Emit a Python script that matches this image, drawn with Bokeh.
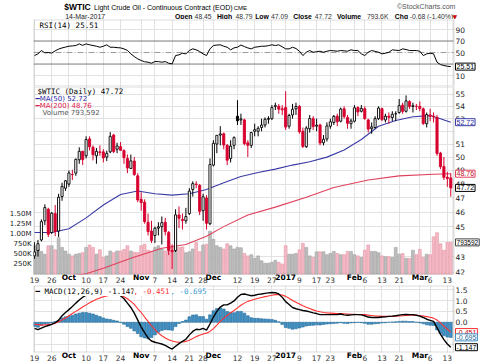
from bokeh.plotting import figure
from bokeh.layouts import column
from bokeh.models import (Range1d, LinearAxis, LinearScale, FixedTicker, Label, Span,
                          BoxAnnotation, NumeralTickFormatter, PrintfTickFormatter)
from bokeh.core.properties import value
from bokeh.embed import file_html
from bokeh.resources import INLINE

# ---------------- data (trading-day index 0 = 19 Sep 2016 ... 121 = 14 Mar 2017) -------------
opens = [43.05, 43.40, 44.10, 45.40, 46.20, 44.60, 45.90, 44.70, 47.10, 47.70,
         48.00, 48.70, 48.80, 49.80, 50.45, 50.10, 51.40, 50.75, 50.10, 50.40,
         50.40, 50.00, 50.40, 51.70, 50.60, 50.80, 50.50, 49.90, 49.15, 49.70,
         48.60, 46.90, 46.70, 45.30, 44.70, 44.40, 44.90, 45.00, 45.30, 44.60,
         43.40, 43.40, 45.80, 45.50, 45.40, 45.90, 47.60, 48.00, 47.90, 46.10,
         47.00, 45.20, 49.40, 51.00, 51.70, 51.80, 50.90, 49.90, 50.90, 53.20,
         52.90, 52.90, 51.10, 50.90, 52.00, 52.00, 52.30, 52.50, 52.95, 53.00,
         54.00, 54.00, 53.80, 53.90, 52.40, 53.30, 53.80, 54.00, 52.00, 50.80,
         52.20, 53.00, 52.40, 52.50, 51.10, 51.40, 52.40, 52.70, 53.20, 52.80,
         53.80, 53.10, 52.60, 52.80, 53.90, 53.60, 53.80, 52.90, 52.20, 52.30,
         53.00, 53.80, 52.90, 53.20, 53.10, 53.40, 53.50, 54.10, 53.60, 54.40,
         54.00, 54.00, 54.00, 53.80, 52.60, 53.30, 53.20, 53.10, 50.30, 49.30,
         48.50, 48.45]
highs = [43.95, 44.10, 45.50, 46.55, 46.30, 46.00, 46.50, 47.30, 48.10, 48.30,
         49.00, 49.05, 49.90, 50.75, 50.45, 51.60, 51.60, 50.90, 50.70, 50.90,
         50.60, 50.50, 51.93, 51.80, 51.10, 51.15, 50.60, 50.20, 50.20, 50.00,
         48.80, 47.40, 46.90, 45.90, 45.40, 45.00, 45.30, 45.70, 45.60, 44.70,
         43.80, 46.20, 46.40, 45.90, 46.30, 47.70, 48.20, 48.20, 48.00, 47.30,
         47.20, 49.90, 51.30, 51.70, 52.40, 51.90, 51.00, 51.30, 51.60, 54.51,
         53.40, 53.00, 51.30, 51.95, 52.60, 52.40, 53.00, 53.10, 53.20, 54.10,
         54.30, 54.20, 54.10, 55.24, 53.40, 54.20, 54.30, 54.10, 52.30, 52.40,
         53.30, 53.20, 53.00, 52.60, 51.70, 52.70, 53.00, 53.30, 53.40, 53.90,
         54.00, 53.30, 53.00, 54.10, 54.00, 54.10, 54.00, 53.00, 52.70, 53.20,
         54.00, 53.90, 53.40, 53.50, 53.60, 53.60, 54.60, 54.30, 54.90, 54.50,
         54.30, 54.20, 54.40, 53.90, 53.50, 53.80, 53.50, 53.30, 50.40, 50.00,
         48.90, 48.79]
lows = [42.85, 43.00, 44.00, 45.10, 44.30, 44.50, 44.35, 44.30, 46.80, 47.50,
        47.80, 48.30, 48.60, 49.50, 49.40, 49.90, 50.50, 49.75, 49.50, 50.10,
        49.60, 49.70, 50.30, 50.30, 50.30, 50.50, 49.50, 48.80, 49.10, 48.60,
        46.70, 46.10, 45.20, 44.40, 43.90, 43.90, 44.40, 43.80, 44.40, 43.10,
        42.20, 43.30, 44.90, 44.80, 45.20, 45.80, 47.10, 47.70, 45.80, 45.40,
        44.80, 45.10, 49.30, 50.30, 50.90, 50.60, 49.40, 49.60, 50.60, 52.50,
        52.50, 50.90, 50.00, 50.70, 51.60, 51.60, 52.00, 52.30, 52.60, 52.90,
        53.70, 53.40, 53.30, 52.10, 52.20, 53.00, 53.30, 51.80, 50.70, 50.70,
        51.90, 52.10, 52.00, 50.90, 50.90, 51.20, 52.20, 52.50, 52.40, 52.70,
        53.00, 52.20, 52.20, 52.70, 53.20, 53.50, 52.90, 51.90, 51.80, 52.20,
        52.90, 52.80, 52.70, 52.60, 52.80, 52.80, 53.40, 53.40, 53.50, 53.80,
        53.50, 53.70, 53.60, 52.50, 52.30, 52.80, 52.70, 50.10, 49.10, 48.30,
        47.80, 47.09]
closes = [43.30, 43.85, 45.34, 46.32, 44.48, 45.93, 44.67, 47.05, 47.83, 48.24,
          48.81, 48.69, 49.83, 50.44, 49.81, 51.35, 50.79, 50.18, 50.44, 50.35,
          49.94, 50.29, 51.60, 50.43, 50.85, 50.52, 49.96, 49.18, 49.72, 48.70,
          46.86, 46.67, 45.34, 44.66, 44.07, 44.89, 44.98, 45.27, 44.66, 43.41,
          43.32, 45.81, 45.57, 45.42, 45.69, 47.49, 48.03, 47.96, 46.06, 47.08,
          45.23, 49.44, 51.06, 51.68, 51.79, 50.93, 49.77, 50.84, 51.50, 52.83,
          52.98, 51.04, 50.90, 51.90, 52.12, 52.23, 52.49, 52.95, 53.02, 53.90,
          54.06, 53.77, 53.72, 52.33, 53.26, 53.76, 53.99, 51.96, 50.82, 52.25,
          53.01, 52.37, 52.48, 51.08, 51.37, 52.42, 52.75, 53.18, 52.75, 53.78,
          53.17, 52.63, 52.81, 53.88, 53.54, 53.83, 53.01, 52.17, 52.34, 53.00,
          53.86, 52.93, 53.20, 53.11, 53.36, 53.40, 54.06, 53.59, 54.45, 53.99,
          54.05, 54.01, 53.83, 52.61, 53.33, 53.20, 53.14, 50.28, 49.28, 48.49,
          48.40, 47.72]
# volume in thousands
volumes = [710, 620, 570, 500, 710, 710, 610, 910, 670, 580,
           500, 460, 500, 520, 540, 670, 730, 670, 500, 610,
           420, 460, 580, 540, 580, 580, 620, 710, 580, 550,
           540, 710, 750, 600, 580, 670, 710, 630, 580, 790,
           710, 580, 670, 680, 540, 560, 630, 790, 560, 730,
           750, 1070, 870, 710, 670, 630, 760, 710, 630, 670,
           660, 520, 460, 490, 400, 460, 340, 280, 280, 300,
           350, 300, 260, 710, 500, 500, 520, 610, 770, 670,
           460, 420, 560, 560, 560, 490, 520, 570, 520, 490,
           490, 570, 570, 490, 460, 420, 600, 730, 570, 570,
           540, 460, 440, 440, 420, 670, 500, 520, 400, 400,
           600, 490, 620, 420, 500, 490, 930, 1030, 760, 600,
           790, 793.592]
ma50_idx = [0, 5, 10, 15, 20, 25, 30, 35, 40, 45, 50, 55, 60, 65, 70, 75, 80,
            85, 90, 95, 100, 105, 110, 115, 118, 121]
ma50_val = [44.6, 44.6, 44.85, 45.6, 46.5, 47.25, 47.5, 47.3, 47.2, 47.3, 47.6,
            48.1, 48.55, 48.85, 49.1, 49.4, 49.65, 50.0, 50.55, 51.35, 52.4,
            52.85, 53.15, 53.25, 53.0, 52.72]
ma200_idx = [0, 10, 15, 20, 28, 37, 44, 50, 55, 62, 70, 79, 87, 97, 106, 116, 121]
ma200_val = [41.45, 41.75, 41.9, 42.25, 42.9, 43.55, 43.8, 44.35, 45.0, 45.8,
             46.35, 47.05, 47.75, 48.3, 48.6, 48.72, 48.76]
rsi = [44.8, 47.7, 53.5, 49.5, 50.0, 49.0, 53.0, 56.0, 58.0, 59.5,
       61.0, 61.5, 62.2, 65.0, 62.5, 65.0, 63.4, 62.2, 61.0, 59.2,
       61.0, 63.4, 59.2, 59.2, 58.5, 58.1, 56.4, 53.5, 47.7, 43.0,
       39.0, 36.1, 34.0, 33.2, 31.4, 34.3, 34.3, 33.2, 34.3, 31.4,
       30.3, 44.8, 46.0, 48.8, 47.7, 53.5, 56.4, 54.7, 51.7, 47.7,
       44.8, 56.4, 62.2, 63.0, 63.4, 61.0, 59.2, 54.7, 58.1, 59.2,
       63.0, 60.4, 58.0, 56.4, 59.2, 60.0, 61.0, 61.0, 62.0, 63.4,
       62.2, 63.4, 60.0, 56.4, 56.4, 59.2, 57.0, 52.3, 44.8, 50.5,
       53.5, 50.5, 51.5, 52.3, 50.5, 52.3, 53.5, 53.0, 52.3, 53.5,
       53.0, 52.3, 54.7, 53.5, 53.5, 47.7, 44.8, 50.5, 53.5, 52.0,
       50.5, 47.7, 48.8, 50.5, 54.7, 54.0, 53.5, 56.4, 55.2, 53.5,
       53.5, 53.5, 52.3, 44.8, 47.7, 48.8, 47.7, 33.2, 29.1, 27.4,
       26.2, 25.51]
macd = [-0.28, -0.34, -0.27, -0.20, -0.15, -0.10, -0.02, 0.10, 0.30, 0.45,
        0.58, 0.72, 0.88, 1.02, 1.15, 1.25, 1.32, 1.36, 1.38, 1.38,
        1.37, 1.36, 1.38, 1.36, 1.32, 1.22, 1.08, 0.88, 0.68, 0.42,
        0.10, -0.22, -0.48, -0.72, -0.86, -0.92, -0.96, -1.00, -1.06, -1.15,
        -1.23, -1.10, -0.98, -0.88, -0.78, -0.58, -0.42, -0.32, -0.34, -0.28,
        -0.36, -0.08, 0.24, 0.50, 0.70, 0.80, 0.80, 0.88, 0.98, 1.15,
        1.28, 1.30, 1.26, 1.22, 1.24, 1.28, 1.30, 1.33, 1.35, 1.37,
        1.36, 1.30, 1.15, 0.95, 0.82, 0.68, 0.62, 0.58, 0.54, 0.52,
        0.48, 0.43, 0.40, 0.35, 0.35, 0.35, 0.35, 0.35, 0.36, 0.38,
        0.34, 0.32, 0.34, 0.35, 0.35, 0.34, 0.30, 0.24, 0.22, 0.22,
        0.22, 0.24, 0.25, 0.27, 0.28, 0.30, 0.33, 0.35, 0.36, 0.35,
        0.35, 0.32, 0.28, 0.22, 0.14, 0.09, 0.04, -0.25, -0.55, -0.80,
        -1.00, -1.147]
signal = [-0.09, -0.11, -0.13, -0.12, -0.10, -0.08, -0.05, 0.02, 0.10, 0.20,
          0.30, 0.40, 0.50, 0.60, 0.70, 0.80, 0.90, 0.98, 1.06, 1.12,
          1.17, 1.21, 1.25, 1.27, 1.26, 1.23, 1.17, 1.08, 0.96, 0.82,
          0.62, 0.45, 0.24, 0.04, -0.16, -0.34, -0.50, -0.62, -0.72, -0.80,
          -0.86, -0.90, -0.92, -0.91, -0.88, -0.83, -0.75, -0.66, -0.60, -0.54,
          -0.50, -0.42, -0.29, -0.13, 0.04, 0.19, 0.31, 0.43, 0.54, 0.66,
          0.78, 0.88, 0.96, 1.01, 1.06, 1.10, 1.14, 1.18, 1.21, 1.24,
          1.27, 1.28, 1.25, 1.19, 1.10, 1.00, 0.92, 0.84, 0.76, 0.69,
          0.63, 0.57, 0.52, 0.48, 0.45, 0.43, 0.42, 0.41, 0.40, 0.40,
          0.39, 0.38, 0.37, 0.37, 0.36, 0.36, 0.35, 0.33, 0.31, 0.29,
          0.28, 0.27, 0.27, 0.27, 0.27, 0.28, 0.29, 0.30, 0.31, 0.32,
          0.32, 0.32, 0.31, 0.29, 0.26, 0.23, 0.19, 0.10, -0.03, -0.18,
          -0.32, -0.451]
hist = [-0.19, -0.23, -0.14, -0.08, -0.05, -0.02, 0.03, 0.08, 0.20, 0.25,
        0.28, 0.32, 0.38, 0.42, 0.45, 0.45, 0.42, 0.38, 0.32, 0.26,
        0.20, 0.15, 0.13, 0.09, 0.06, -0.01, -0.09, -0.20, -0.28, -0.40,
        -0.52, -0.67, -0.72, -0.76, -0.70, -0.58, -0.46, -0.38, -0.34, -0.35,
        -0.37, -0.20, -0.06, 0.03, 0.10, 0.25, 0.33, 0.34, 0.26, 0.26,
        0.14, 0.34, 0.53, 0.63, 0.66, 0.61, 0.49, 0.45, 0.44, 0.49,
        0.50, 0.42, 0.30, 0.21, 0.18, 0.18, 0.16, 0.15, 0.14, 0.13,
        0.09, 0.02, -0.10, -0.24, -0.28, -0.32, -0.30, -0.26, -0.22, -0.17,
        -0.15, -0.14, -0.12, -0.13, -0.10, -0.08, -0.07, -0.06, -0.04, -0.02,
        -0.05, -0.06, -0.03, -0.02, -0.01, -0.02, -0.05, -0.09, -0.09, -0.07,
        -0.06, -0.03, -0.02, 0.00, 0.01, 0.02, 0.04, 0.05, 0.05, 0.03,
        0.03, 0.00, -0.03, -0.07, -0.12, -0.14, -0.15, -0.35, -0.52, -0.62,
        -0.68, -0.695]
day_idx = [0, 5, 15, 20, 25, 35, 40, 45, 49, 59, 64, 69, 77, 82, 86, 96, 101,
           106, 115, 120]
day_lbl = ["19", "26", "10", "17", "24", "7", "14", "21", "28", "12", "19", "27",
           "9", "17", "23", "6", "13", "21", "6", "13"]
month_idx = [10, 31, 52, 73, 93, 112]
month_lbl = ["Oct", "Nov", "Dec", "2017", "Feb", "Mar"]
price_ticks = [42, 43, 45, 46, 47, 48, 49, 50, 51, 53, 54, 55]
price_grid = [42, 43, 44, 45, 46, 47, 48, 49, 50, 51, 52, 53, 54, 55]
vol_ticks = [250, 500, 750, 1000, 1250, 1500]
vol_lbls = ["250K", "500K", "750K", "1.00M", "1.25M", "1.50M"]
rsi_ticks = [10, 50, 70, 90]
rsi_bands = [30, 70]
rsi_mid = 50
macd_ticks = [1.5, 1.0, 0.5, 0.0]
macd_grid = [-1.0, -0.5, 0.0, 0.5, 1.0, 1.5]

symbol = "$WTIC"
name = "Light Crude Oil - Continuous Contract (EOD)"
exch = "CME"
asof = "14-Mar-2017"
quote_keys = ["Open", "High", "Low", "Close", "Volume", "Chg"]
quote_vals = ["48.45", "48.79", "47.09", "47.72", "793.6K", "-0.68 (-1.40%)"]

# ---------------- styling helpers ----------------
W = 480
BL = 33
GRID = "#e2e2e2"
OUTLINE = "#8a8a8a"
RED = "#d8002e"
AXF = "DejaVu Sans"
n = len(closes)
xs = list(range(n))
XSTART, XEND = -0.3, 121.8           # visible data area (frame right edge at x=453)
xr = Range1d(XSTART, 129.64)          # the extra room holds the right-hand scale
all_xticks = sorted(day_idx + month_idx)


def style_axis(ax, size="7.5px"):
    ax.major_tick_line_color = None
    ax.minor_tick_line_color = None
    ax.major_tick_out = 0
    ax.major_tick_in = 0
    ax.minor_tick_out = 0
    ax.minor_tick_in = 0
    ax.axis_line_color = None
    ax.major_label_text_font = AXF
    ax.major_label_text_font_size = size
    ax.major_label_text_color = "#222222"
    ax.major_label_standoff = 2


def panel(height, yr, **kw):
    p = figure(width=W, height=height, x_range=xr, y_range=yr,
               toolbar_location=None, output_backend="svg",
               min_border_left=BL, min_border_right=0, min_border_top=0,
               min_border_bottom=0, y_axis_location="right", **kw)
    p.outline_line_color = None
    p.background_fill_color = "white"
    p.border_fill_color = "white"
    p.grid.grid_line_color = GRID
    p.xgrid.ticker = FixedTicker(ticks=all_xticks)
    if p.below:
        dax = p.below[0]
        dax.ticker = FixedTicker(ticks=day_idx)
        dax.major_label_overrides = dict(zip(day_idx, day_lbl))
        style_axis(dax)
        dax.major_label_text_color = "#333333"
        # month names: a second axis whose labels are pulled up into the same row
        max_ = LinearAxis(ticker=FixedTicker(ticks=month_idx),
                          major_label_overrides=dict(zip(month_idx, month_lbl)))
        style_axis(max_)
        max_.major_label_standoff = -13
        max_.major_label_text_font_style = "bold"
        max_.major_label_text_color = "black"
        p.add_layout(max_, "below")
    ax = p.right[0]
    ax.fixed_location = XEND
    style_axis(ax)
    return p


def finish(p, ybot, ytop):
    # white mask over the scale area, then the frame outline
    p.add_layout(BoxAnnotation(left=XEND, fill_color="white", fill_alpha=1.0,
                               line_color=None, level="underlay"))
    p.add_layout(BoxAnnotation(left=XSTART, right=XEND, bottom=ybot, top=ytop,
                               fill_alpha=0.0, line_color=OUTLINE, line_width=2))


def legend(p, ytop, text, dx, dy, color, font="DejaVu Sans Mono", size="7.5px",
           bg=None):
    p.add_layout(Label(x=XSTART, y=ytop, x_offset=dx, y_offset=-dy, text=text,
                       text_color=color, text_font=font, text_font_size=size,
                       text_baseline="middle", text_align="left",
                       background_fill_color=bg,
                       background_fill_alpha=1.0 if bg else 0.0))


def vbox(p, y, text, color, tcolor, yname="default", size="7px"):
    p.add_layout(Label(x=XEND, y=y, x_offset=2, text=text, text_color=tcolor,
                       text_font="Liberation Sans", text_font_size=size,
                       text_baseline="middle", text_align="left",
                       background_fill_color="white", border_line_color=color,
                       border_line_width=1, padding=1, y_range_name=yname))


# ---------------- header ----------------
hdr = figure(width=W, height=19, x_range=Range1d(0, 480), y_range=Range1d(19, 0),
             toolbar_location=None, output_backend="svg", min_border=0)
hdr.axis.visible = False
hdr.grid.visible = False
hdr.outline_line_color = None
hdr.background_fill_color = "white"
hdr.border_fill_color = "white"
LS = value("Liberation Sans")
hdr.text(x=[33], y=[6], text=[symbol], text_font=LS, text_font_size="8.5px",
         text_font_style="bold", text_baseline="middle", text_color="black")
hdr.text(x=[65], y=[6.5], text=[name], text_font=LS, text_font_size="7px",
         text_baseline="middle", text_color="black")
hdr.text(x=[215], y=[7], text=[exch], text_font=LS, text_font_size="6px",
         text_baseline="middle", text_color="black")
hdr.text(x=[453], y=[6], text=["\u00a9StockCharts.com"], text_font=LS,
         text_font_size="7px", text_baseline="middle", text_align="right",
         text_color="#555555")
hdr.text(x=[34], y=[15.5], text=[asof], text_font=LS, text_font_size="7px",
         text_baseline="middle", text_color="#222222")
hdr.text(x=[152, 197, 238, 279, 326, 388], y=[15.5] * 6, text=quote_keys,
         text_font=LS, text_font_size="6.8px", text_font_style="bold",
         text_baseline="middle", text_color="black")
hdr.text(x=[173, 217, 255, 302, 358, 404], y=[15.5] * 6, text=quote_vals,
         text_font=LS, text_font_size="6.8px", text_baseline="middle",
         text_color="#333333")
hdr.text(x=[450], y=[15.5], text=["\u25bc"], text_font=value("DejaVu Sans"),
         text_font_size="6px", text_baseline="middle", text_color="#cc0000")

# ---------------- RSI ----------------
RSI_LO, RSI_HI = -9, 107.4
pr = panel(67, Range1d(RSI_LO, RSI_HI), x_axis_location=None)
pr.yaxis.ticker = FixedTicker(ticks=rsi_ticks)
pr.ygrid.ticker = FixedTicker(ticks=[10, 90])
for lvl in rsi_bands:
    pr.add_layout(Span(location=lvl, dimension="width", line_color="#7a7a7a",
                       line_width=1, level="underlay"))
pr.add_layout(Span(location=rsi_mid, dimension="width", line_color="#9a9a9a",
                   line_width=1, line_dash="6 2 1 2", level="underlay"))
finish(pr, RSI_LO, RSI_HI)
pr.line(xs, rsi, line_color="black", line_width=1)
legend(pr, RSI_HI, "RSI(14) 25.51", 6, 6, "black")
vbox(pr, rsi[-1], "25.51", "black", "black")

# ---------------- price + volume ----------------
P_LO, P_HI = 41.85, 55.65
pm = panel(199, Range1d(P_LO, P_HI), y_axis_type="log")
pm.right[0].ticker = FixedTicker(ticks=price_ticks)
pm.right[0].formatter = PrintfTickFormatter(format="%d")
pm.ygrid.ticker = FixedTicker(ticks=price_grid)
pm.extra_y_ranges = {"vol": Range1d(0, 4645)}
pm.extra_y_scales = {"vol": LinearScale()}
vax = LinearAxis(y_range_name="vol", ticker=FixedTicker(ticks=vol_ticks),
                 major_label_overrides=dict(zip(vol_ticks, vol_lbls)))
style_axis(vax, "7px")
pm.add_layout(vax, "left")
finish(pm, P_LO, P_HI)

down = [i > 0 and closes[i] < closes[i - 1] for i in xs]
vfill = ["#f3b9c4" if d else "#bdbdbd" for d in down]
vline = ["#e596a6" if d else "#a0a0a0" for d in down]
pm.vbar(x=xs, width=0.82, top=volumes, bottom=0, y_range_name="vol",
        fill_color=vfill, line_color=vline, line_width=0.6)
pm.line(ma200_idx, ma200_val, line_color="#e0405c", line_width=1.1)
pm.line(ma50_idx, ma50_val, line_color="#3a3aa8", line_width=1.1)

ccol = [RED if d else "black" for d in down]
btop = [max(o, c) for o, c in zip(opens, closes)]
bbot = [min(o, c) for o, c in zip(opens, closes)]
bfill = ["white" if c > o else col for o, c, col in zip(opens, closes, ccol)]
pm.segment(x0=xs, y0=lows, x1=xs, y1=highs, line_color=ccol, line_width=1)
pm.vbar(x=xs, width=0.62, top=btop, bottom=bbot, fill_color=bfill,
        line_color=ccol, line_width=0.9)

legend(pm, P_HI, "$WTIC (Daily) 47.72", 4, 5, "black")
legend(pm, P_HI, "\u2501MA(50) 52.72", 2, 12.5, "#2b2ba0", font="DejaVu Sans", size="7px")
legend(pm, P_HI, "\u2501MA(200) 48.76", 2, 19.5, "#e0204a", font="DejaVu Sans", size="7px")
legend(pm, P_HI, "Volume 793,592", 9, 26.5, "#555555", font="DejaVu Sans", size="7px")
vbox(pm, ma50_val[-1], "52.72", "#3a3aa8", "#2b2ba0")
vbox(pm, ma200_val[-1], "48.76", "#e0405c", "#c0102a")
vbox(pm, closes[-1], "47.72", "black", "black")
vbox(pm, volumes[-1], "793592", "#444444", "black", yname="vol", size="6.5px")

# ---------------- MACD ----------------
M_LO, M_HI = -1.39, 1.69
pd_ = panel(78, Range1d(M_LO, M_HI))
pd_.right[0].ticker = FixedTicker(ticks=macd_ticks)
pd_.right[0].formatter = NumeralTickFormatter(format="0.0")
pd_.ygrid.ticker = FixedTicker(ticks=macd_grid)
finish(pd_, M_LO, M_HI)
pd_.vbar(x=xs, width=0.82, top=hist, bottom=0, fill_color="#3d8fc4",
         line_color="#2a6e9c", line_width=0.6)
pd_.line(xs, signal, line_color="#ff3030", line_width=1.1)
pd_.line(xs, macd, line_color="black", line_width=1.4)
legend(pd_, M_HI, "\u2501 MACD(12,26,9) -1.147", 2, 6, "black", bg="white")
legend(pd_, M_HI, ", -0.451", 100, 6, "#ff3030", bg="white")
legend(pd_, M_HI, ", -0.695", 137, 6, "#3d9ad0", bg="white")
vbox(pd_, signal[-1], "-0.451", "#ff3030", "#cc0000")
vbox(pd_, hist[-1], "-0.695", "#3d8fc4", "#2a6e9c")
vbox(pd_, macd[-1], "-1.147", "black", "black")

layout = column(hdr, pr, pm, pd_, spacing=0)
open("out.html", "w").write(file_html(layout, INLINE))
